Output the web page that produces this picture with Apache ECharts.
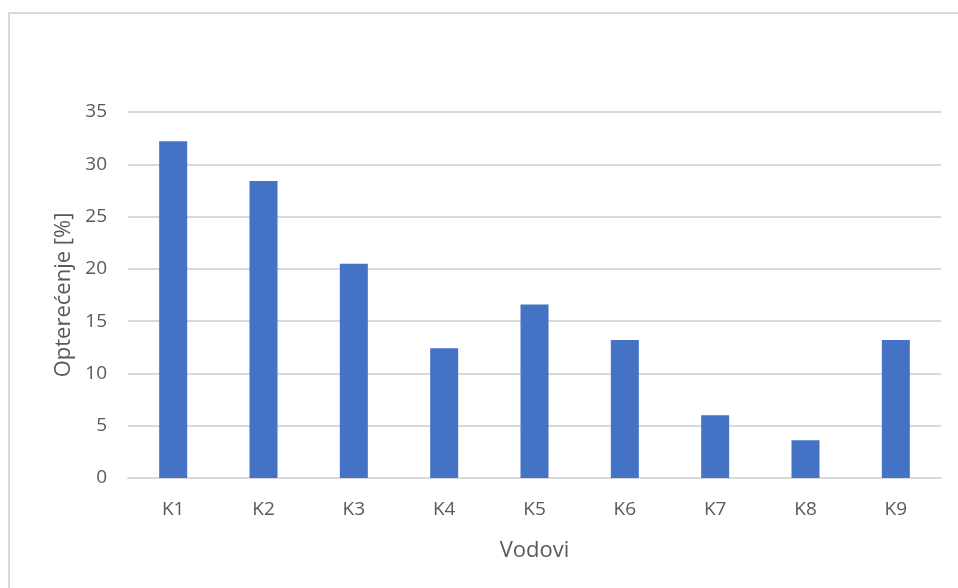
<!DOCTYPE html>
<html>
<head>
<meta charset="utf-8">
<script src="https://cdn.jsdelivr.net/npm/echarts@6/dist/echarts.min.js"></script>
<style>
html,body{margin:0;padding:0;background:#fff;}
#c{width:958px;height:588px;}
</style>
</head>
<body>
<div id="c"></div>
<script>
const categories = ['K1','K2','K3','K4','K5','K6','K7','K8','K9'];
const values = [32.2, 28.4, 20.5, 12.4, 16.6, 13.2, 6.0, 3.6, 13.2];
const xTitle = 'Vodovi';
const yTitle = 'Opterećenje [%]';

const chart = echarts.init(document.getElementById('c'), null, {renderer:'canvas'});
const font = '"Open Sans", "Noto Sans", sans-serif';
chart.setOption({
  animation:false,
  backgroundColor:'#fff',
  graphic:[{type:'rect', shape:{x:9, y:13, width:960, height:600}, style:{fill:'none', stroke:'#d9d9d9', lineWidth:2}, silent:true}],
  grid:{left:128, right:17, top:112, bottom:110},
  xAxis:{
    type:'category', data:categories,
    name:xTitle, nameLocation:'middle', nameGap:62,
    nameTextStyle:{color:'#595959', fontSize:22, fontFamily:font},
    axisLine:{lineStyle:{color:'#d9d9d9', width:2}},
    axisTick:{show:false},
    axisLabel:{color:'#595959', fontSize:19, fontFamily:font, margin:22}
  },
  yAxis:{
    type:'value', min:0, max:35, interval:5,
    name:yTitle, nameLocation:'middle', nameGap:53,
    nameTextStyle:{color:'#595959', fontSize:22, fontFamily:font},
    axisLine:{show:false}, axisTick:{show:false},
    axisLabel:{color:'#595959', fontSize:19, fontFamily:font, margin:21},
    splitLine:{lineStyle:{color:'#d9d9d9', width:2}}
  },
  series:[{
    type:'bar', data:values, barWidth:28,
    itemStyle:{color:'#4472c4'}
  }]
});
</script>
</body>
</html>
